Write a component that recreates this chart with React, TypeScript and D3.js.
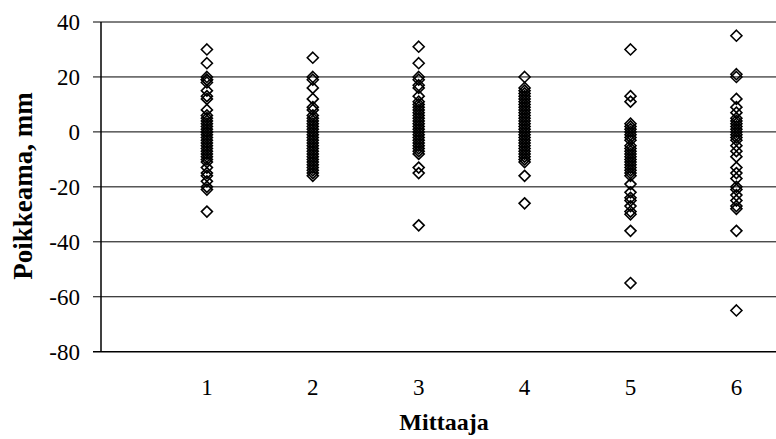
import React from "react";
import * as d3 from "d3";

const categories = [1, 2, 3, 4, 5, 6];
const series1 = [30, 25, 20, 19, 19, 18, 15, 13, 12, 8, 6, 5, 4, 3, 2, 1, 0, 0, -1, -2, -3, -4, -5, -6, -7, -8, -9, -10, -11, -13, -15, -16, -18, -20, -21, -29];
const series2 = [27, 20, 19, 16, 12, 9, 8, 6, 5, 4, 3, 2, 1, 0, -1, -2, -3, -4, -5, -6, -7, -8, -9, -10, -11, -12, -13, -14, -15, -16];
const series3 = [31, 25, 20, 19, 17, 16, 13, 11, 10, 9, 8, 7, 6, 5, 4, 3, 2, 1, 0, -1, -2, -3, -4, -5, -6, -7, -8, -13, -15, -34];
const series4 = [20, 16, 15, 14, 13, 12, 11, 10, 9, 8, 7, 6, 5, 4, 3, 2, 1, 0, -1, -2, -3, -4, -5, -6, -7, -8, -9, -10, -11, -16, -26];
const series5 = [30, 13, 11, 3, 2, 1, 0, -1, -2, -3, -5, -6, -7, -8, -9, -10, -11, -12, -13, -14, -15, -16, -19, -22, -24, -25, -27, -29, -30, -36, -55];
const series6 = [35, 21, 20, 12, 9, 7, 5, 4, 3, 2, 1, 0, -1, -2, -3, -5, -7, -9, -13, -15, -17, -20, -21, -23, -25, -27, -28, -36, -65];
const yTicks = [40, 20, 0, -20, -40, -60, -80];
const xLabel = "Mittaaja";
const yLabel = "Poikkeama, mm";

const allSeries = [series1, series2, series3, series4, series5, series6];

export default function App() {
  const W = 776, H = 439;
  const left = 101, right = 776, top = 22, bottom = 351.7;
  const x = d3.scaleLinear().domain([0, 7]).range([left, left + 7 * 105.9]);
  const y = d3.scaleLinear().domain([-80, 40]).range([bottom, top]);
  const fontStyle = { fontFamily: "'Liberation Serif', 'Times New Roman', Times, serif" };
  const s = 5.5;
  const diamond = (cx: number, cy: number) =>
    `M${cx},${cy - s}L${cx + s},${cy}L${cx},${cy + s}L${cx - s},${cy}Z`;

  return (
    <svg width={W} height={H} style={{ position: "absolute", left: 0, top: 0, background: "#fff" }}>
      <rect x={0} y={0} width={W} height={H} fill="#fff" />
      {yTicks.map((t) => (
        <g key={t}>
          <line x1={left - 8} x2={right} y1={y(t)} y2={y(t)} stroke="#000" strokeWidth={t === -80 ? 1.5 : 1} />
          <text x={80} y={y(t) + 8} textAnchor="end" fontSize={23} style={fontStyle}>{t}</text>
        </g>
      ))}
      <line x1={left} x2={left} y1={top} y2={bottom} stroke="#000" strokeWidth={1.5} />
      {categories.map((c) => (
        <text key={c} x={x(c)} y={394.5} textAnchor="middle" fontSize={23} style={fontStyle}>{c}</text>
      ))}
      {allSeries.map((ser, i) =>
        ser.map((v, j) => (
          <path key={`${i}-${j}`} d={diamond(x(categories[i]), y(v))} fill="none" stroke="#000" strokeWidth={1.6} />
        ))
      )}
      <text x={444} y={430} textAnchor="middle" fontSize={24} fontWeight="bold" style={fontStyle}>{xLabel}</text>
      <text transform={`translate(32,186) rotate(-90)`} textAnchor="middle" fontSize={27} fontWeight="bold" style={fontStyle}>{yLabel}</text>
    </svg>
  );
}
